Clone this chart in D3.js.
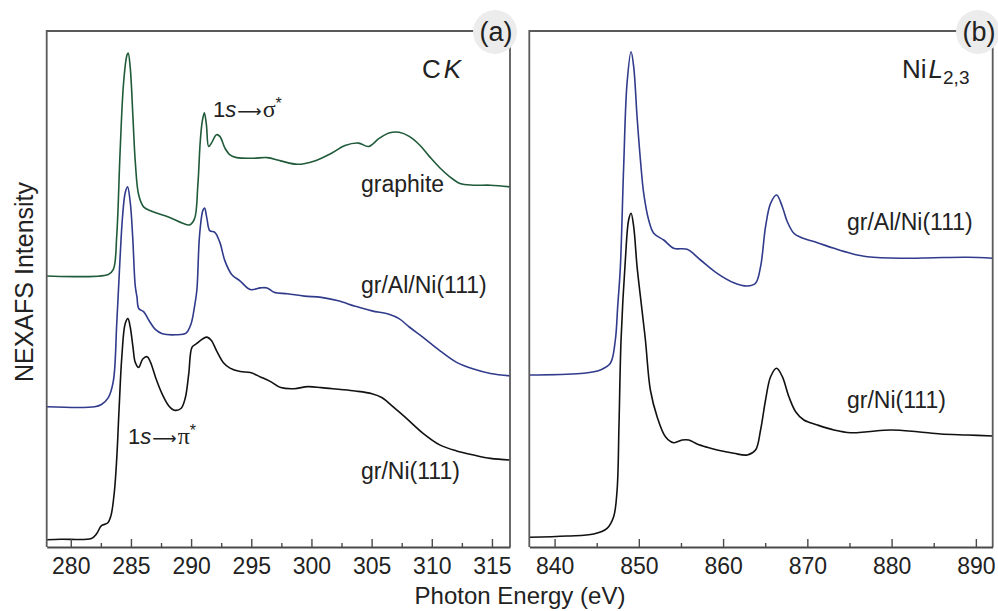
<!DOCTYPE html>
<html>
<head>
<meta charset="utf-8">
<script src="https://cdn.jsdelivr.net/npm/d3@7"></script>
<style>
  body { margin: 0; background: #fff; }
  svg { display: block; }
  text { font-family: "Liberation Sans", Arial, Helvetica, sans-serif; fill: #222; }
</style>
</head>
<body>
<svg id="chart" width="998" height="611"></svg>
<script>
// NEXAFS spectra, [photon energy (eV), intensity (a.u., offset per curve)]

// C K-edge
const graphiteCK = [
  [278.0,271],[283.12,272.6],[283.54,277.6],[283.82,311.3],[284.10,395.5],[284.38,462.8],
  [284.66,491.4],[284.77,494],[284.94,479.7],[285.17,429.2],[285.36,385.4],[285.65,351.7],
  [286.07,339.9],[286.77,335.6],[288.17,329.8],[289.30,323.8],[289.86,322.1],[290.28,328.1],
  [290.56,361.8],[290.76,405.6],[290.93,425.8],[291.10,434.2],[291.27,422.4],[291.46,400.5],
  [291.69,403.9],[292.11,412.3],[292.39,410.6],[292.81,398.9],[293.23,392.1],[293.79,389.4],
  [295.20,388.8],[296.32,389.4],[297.45,386.1],[298.85,382.7],[300.26,386.1],[301.66,393.8],
  [302.79,401.5],[303.91,403.9],[304.75,400.5],[305.60,408.3],[306.44,414.0],[307.28,414.7],
  [308.13,410.6],[308.97,402.2],[309.81,390.4],[310.66,379.3],[311.50,370.2],[312.34,363.5],
  [313.47,361.8],[314.87,361.8],[316.5,360.1]
];
const grAlNiCK = [
  [278.0,140.2],[281.99,140.2],[282.55,142.5],[283.12,149.3],[283.54,166.1],[283.82,223.3],
  [284.10,290],[284.30,330],[284.52,354],[284.72,360.1],[284.94,345],[285.14,311.3],
  [285.36,260.8],[285.50,250.3],[285.65,238.5],[286.07,235.1],[286.49,226.7],[287.05,217.3],
  [287.61,213.2],[288.74,212.2],[289.58,213.9],[290.00,223.3],[290.28,240.2],[290.48,257],
  [290.70,311.3],[290.98,336.6],[291.12,338.9],[291.32,328.1],[291.55,316.4],[291.97,314.7],
  [292.39,304.6],[292.81,286.1],[293.37,272.6],[294.08,265.9],[294.92,257.4],[295.76,259.1],
  [296.32,259.1],[296.89,254.7],[298.01,253.3],[299.41,250.9],[300.82,249.6],[302.23,246.2],
  [303.63,240.8],[305.03,236.1],[306.44,232.8],[307.28,228.4],[308.13,220.0],[309.25,209.9],
  [310.66,196.4],[312.06,184.6],[313.47,177.9],[314.87,173.5],[316.5,171.1]
];
const grNiCK = [
  [278.0,7.2],[279.18,7.8],[281.71,8.5],[282.13,12.9],[282.55,21.3],[283.06,24.0],
  [283.34,31.4],[283.62,55.0],[283.82,88.6],[284.02,139.2],[284.24,189.7],[284.52,223.3],
  [284.75,228.4],[284.94,220.0],[285.17,199.8],[285.36,184.6],[285.65,179.6],[285.98,188.0],
  [286.35,190.3],[286.63,184.6],[287.05,169.5],[287.61,152.6],[288.17,140.8],[288.60,136.8],
  [289.16,138.5],[289.52,149.3],[289.80,172.8],[290.08,199.8],[290.42,203.1],[290.98,208.2],
  [291.32,209.9],[291.69,206.5],[292.11,196.4],[292.67,184.6],[293.23,178.9],[294.08,175.5],
  [294.92,174.5],[295.76,170.1],[296.61,165.4],[297.45,159.4],[298.57,158.3],[299.70,160.4],
  [300.82,159.4],[302.23,157.7],[303.63,156.0],[305.03,153.3],[305.88,149.3],[306.72,140.8],
  [307.85,129.1],[309.25,113.9],[310.66,102.1],[312.06,96.1],[313.47,92.0],[314.87,88.6],
  [316.5,87.0]
];

// Ni L2,3-edge
const grAlNiNiL = [
  [837.0,172],[837.5,172],[843.45,173.7],[845.43,177],[846.62,183.7],[847.21,207],
  [847.49,240.3],[847.81,280.3],[848.2,380.3],[848.6,463.7],[849.08,495.3],[849.39,480.3],
  [849.79,430.3],[850.19,387],[850.58,353.7],[851.17,327],[851.77,313.7],[852.95,307],
  [854.14,298.7],[855.73,297.7],[857.32,287],[859.3,273.7],[861.27,264.3],[862.87,261],
  [863.85,263.7],[864.45,280.3],[865.04,320.3],[865.64,343.7],[866.35,352],[867.03,340.3],
  [867.62,325.3],[868.4,313.7],[869.2,309.7],[871.19,304.3],[873.16,298.7],[875.14,293.7],
  [877.13,290.3],[881.09,288.7],[885.04,289.3],[889.01,289.7],[892.0,288.7]
];
const grNiNiL = [
  [837.0,9.7],[841.47,11],[844.64,13],[846.23,18.7],[847.01,30.3],[847.42,57],
  [847.65,123.7],[847.89,207],[848.4,287],[848.79,327],[849.08,333.7],[849.39,320.3],
  [849.79,280.3],[850.19,250.3],[850.78,207],[851.37,157],[852.17,130.3],[853.16,110.3],
  [854.14,104.3],[855.14,107],[855.93,107],[856.92,103],[858.11,99.7],[859.3,97],
  [861.27,93.7],[862.87,92],[863.85,97],[864.45,117],[865.04,147],[865.64,170.3],
  [866.35,178.7],[867.03,170.3],[867.81,150.3],[868.61,135.3],[869.59,127],[871.19,122],
  [873.16,117],[875.14,114.3],[877.13,115.3],[879.9,117],[883.07,115.3],[885.84,113],
  [889.01,112],[892.0,111]
];

// axis ticks
const ticksCK = [280, 285, 290, 295, 300, 305, 310, 315];
const minorCK = [282.5, 287.5, 292.5, 297.5, 302.5, 307.5, 312.5];
const ticksNi = [840, 850, 860, 870, 880, 890];
const minorNi = [845, 855, 865, 875, 885];

const colors = { graphite: "#1f5a39", grAlNi: "#303b8c", grNi: "#111111" };

const svg = d3.select("#chart");
const frameTop = 31, frameBottom = 547;
const y = d3.scaleLinear().domain([0, 516]).range([frameBottom, frameTop]);

const panels = [
  {
    x: d3.scaleLinear().domain([278, 316.5]).range([46.7, 510]),
    ticks: ticksCK, minor: minorCK, badge: "(a)", badgeX: 495,
    series: [
      { data: graphiteCK, color: colors.graphite },
      { data: grAlNiCK, color: colors.grAlNi },
      { data: grNiCK, color: colors.grNi }
    ]
  },
  {
    x: d3.scaleLinear().domain([837, 892]).range([529.3, 992.7]),
    ticks: ticksNi, minor: minorNi, badge: "(b)", badgeX: 978,
    series: [
      { data: grAlNiNiL, color: colors.grAlNi },
      { data: grNiNiL, color: colors.grNi }
    ]
  }
];

const fontSize = 23;

panels.forEach(p => {
  const [x0, x1] = p.x.range();
  const g = svg.append("g");

  // spectra
  const line = d3.line()
    .x(d => p.x(d[0]))
    .y(d => y(d[1]))
    .curve(d3.curveCatmullRom.alpha(0.5));
  p.series.forEach(s => {
    g.append("path")
      .datum(s.data)
      .attr("d", line)
      .attr("fill", "none")
      .attr("stroke", s.color)
      .attr("stroke-width", 1.6)
      .attr("stroke-linejoin", "round");
  });

  // frame: left, top, right
  g.append("path")
    .attr("d", `M${x0},${frameBottom}V${frameTop}H${x1}V${frameBottom}`)
    .attr("fill", "none")
    .attr("stroke", "#5a5a5a")
    .attr("stroke-width", 1.8);

  // bottom axis, ticks pointing inward
  const ax = g.append("g")
    .attr("transform", `translate(0,${frameBottom})`)
    .call(d3.axisBottom(p.x).tickValues(p.ticks).tickSizeInner(-8).tickSizeOuter(0).tickPadding(11).tickFormat(d3.format("d")));
  ax.select(".domain").attr("stroke", "#4a4a4a").attr("stroke-width", 1.8);
  ax.selectAll(".tick line").attr("stroke", "#4a4a4a").attr("stroke-width", 1.4);
  ax.selectAll(".tick text")
    .attr("font-size", fontSize)
    .attr("font-family", "Liberation Sans, Arial, sans-serif")
    .attr("fill", "#222");

  const mx = g.append("g")
    .attr("transform", `translate(0,${frameBottom})`)
    .call(d3.axisBottom(p.x).tickValues(p.minor).tickSizeInner(-4).tickSizeOuter(0).tickFormat(() => ""));
  mx.select(".domain").remove();
  mx.selectAll(".tick line").attr("stroke", "#4a4a4a").attr("stroke-width", 1.4);

  // panel badge
  g.append("circle")
    .attr("cx", p.badgeX).attr("cy", frameTop + 1).attr("r", 22)
    .attr("fill", "#ececec");
  g.append("text")
    .attr("x", p.badgeX + 1).attr("y", frameTop + 10)
    .attr("text-anchor", "middle")
    .attr("font-size", 27)
    .text(p.badge);
});

// edge labels
const ck = svg.append("text").attr("x", 422).attr("y", 78).attr("font-size", 26);
ck.append("tspan").text("C");
ck.append("tspan").attr("dx", 3).attr("font-style", "italic").text("K");

const nil = svg.append("text").attr("x", 902).attr("y", 78).attr("font-size", 26);
nil.append("tspan").text("Ni");
nil.append("tspan").attr("dx", 2).attr("font-style", "italic").text("L");
nil.append("tspan").attr("dy", 6).attr("font-size", 19).text("2,3");

// transition labels
function transition(x, yPos, orbital) {
  const t = svg.append("text").attr("x", x).attr("y", yPos).attr("font-size", 22);
  t.append("tspan").text("1");
  t.append("tspan").attr("font-style", "italic").text("s");
  t.append("tspan").attr("dx", 1).attr("font-family", "DejaVu Sans, sans-serif").attr("font-size", 17).text("\u27F6");
  t.append("tspan").attr("dx", 1).attr("font-family", "Liberation Serif, serif").attr("font-size", 24).text(orbital);
  t.append("tspan").attr("dy", -8).attr("font-size", 16).text("*");
}
transition(213, 117, "\u03C3");
transition(128, 444, "\u03C0");

// sample labels
const sampleLabels = [
  { text: "graphite", x: 361, y: 192 },
  { text: "gr/Al/Ni(111)", x: 361, y: 293 },
  { text: "gr/Ni(111)", x: 361, y: 479 },
  { text: "gr/Al/Ni(111)", x: 847, y: 230 },
  { text: "gr/Ni(111)", x: 847, y: 408 }
];
svg.selectAll("text.sample")
  .data(sampleLabels)
  .join("text")
  .attr("class", "sample")
  .attr("x", d => d.x).attr("y", d => d.y)
  .attr("font-size", fontSize)
  .text(d => d.text);

// axis titles
svg.append("text")
  .attr("x", 520).attr("y", 604)
  .attr("text-anchor", "middle")
  .attr("font-size", 24)
  .text("Photon Energy (eV)");

svg.append("text")
  .attr("transform", "translate(33,282) rotate(-90)")
  .attr("text-anchor", "middle")
  .attr("font-size", 25)
  .text("NEXAFS Intensity");
</script>
</body>
</html>
